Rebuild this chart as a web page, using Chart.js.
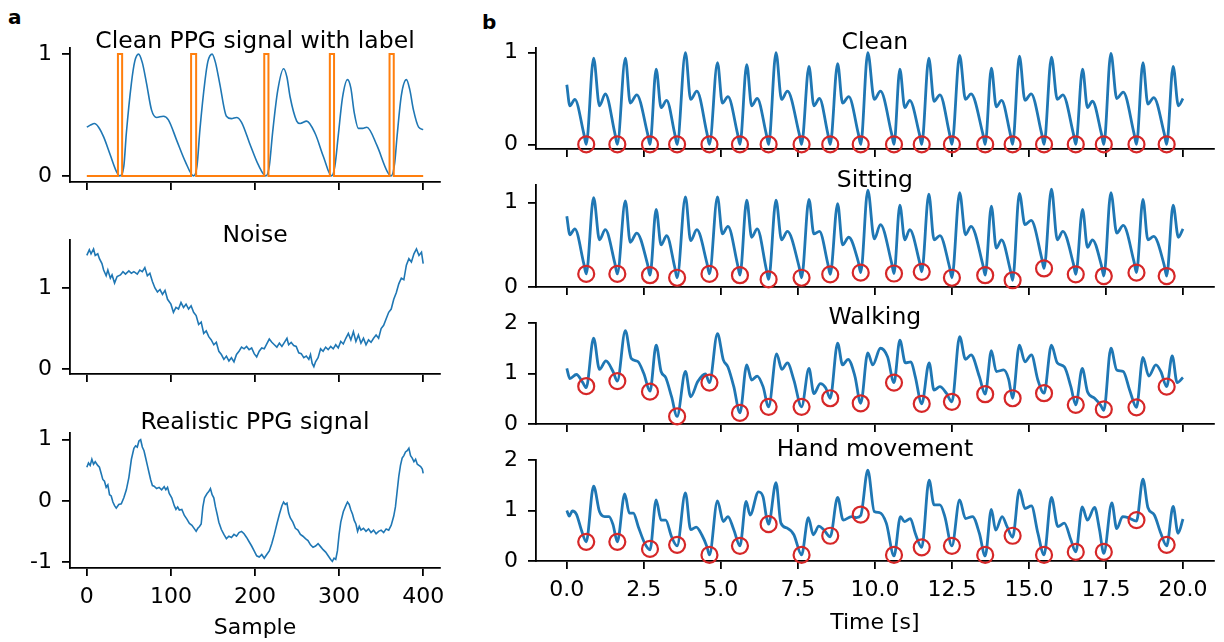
<!DOCTYPE html>
<html>
<head>
<meta charset="utf-8">
<script src="https://cdn.jsdelivr.net/npm/chart.js@4.4.1/dist/chart.umd.min.js"></script>
<style>
  html, body { margin: 0; padding: 0; background: #fff; }
  #fig { position: relative; width: 1224px; height: 642px; overflow: hidden; }
  #fig canvas { position: absolute; }
  .tag { position: absolute; font: bold 20px 'DejaVu Sans', sans-serif; line-height: 20px; color: #000; }
</style>
</head>
<body>
<div id="fig">
  <div class="tag" style="left:8px;top:7px">a</div>
  <div class="tag" style="left:482px;top:12px">b</div>
  <canvas id="cleanLabelChart" width="470" height="198" style="left:0;top:8px"></canvas>
  <canvas id="noiseChart" width="470" height="198" style="left:0;top:200px"></canvas>
  <canvas id="realisticChart" width="470" height="248" style="left:0;top:393px"></canvas>
  <canvas id="cleanChart" width="744" height="165" style="left:480px;top:8px"></canvas>
  <canvas id="sittingChart" width="744" height="156" style="left:480px;top:155px"></canvas>
  <canvas id="walkingChart" width="744" height="155" style="left:480px;top:293px"></canvas>
  <canvas id="handChart" width="744" height="206" style="left:480px;top:430px"></canvas>
</div>
<script>
// ---- tick labels ----
const sampleTicks = [0, 100, 200, 300, 400];
const timeTicks = [0, 2.5, 5, 7.5, 10, 12.5, 15, 17.5, 20];

// ---- panel a: simulated signals (sample, value) ----
const cleanPpg = [
  [0,0.40],[5,0.42],[9,0.43],[14,0.40],[20,0.32],[28,0.17],[35,0.04],[39,0],
  [44,0.08],[47,0.35],[53,0.76],[57,0.94],[61.5,1.0],[66,0.93],[71,0.76],[77,0.54],[83,0.48],[91,0.49],[97,0.46],[107,0.29],[117,0.12],[127,0],
  [131,0.08],[134.5,0.38],[140.5,0.78],[144,0.94],[149,1.0],[153,0.93],[158,0.76],[166,0.49],[172,0.47],[178,0.48],[184,0.44],[194,0.26],[204,0.09],[213,0],
  [217,0.08],[221,0.36],[227,0.70],[234,0.88],[238,0.81],[241.7,0.65],[249.6,0.45],[253.6,0.43],[261.5,0.45],[271.4,0.35],[281.3,0.16],[291,0],
  [295,0.08],[299,0.33],[304,0.64],[310,0.79],[314,0.72],[318,0.52],[323,0.39],[328,0.39],[333,0.40],[345,0.25],[357,0.04],[362,0],
  [366,0.10],[369,0.33],[374,0.66],[380,0.79],[384,0.71],[388.5,0.54],[394.6,0.40],[400,0.38]
];
const labelStarts = [37, 124, 211, 289, 360];
const labelEnds = [42, 130, 216, 294, 365];

const noiseSig = [
  [0,1.40],[3,1.47],[5,1.42],[8,1.48],[10,1.40],[13,1.42],[15,1.36],[18,1.30],[20,1.22],[23,1.15],[25,1.22],[28,1.12],
  [30,1.16],[33,1.06],[36,1.14],[40,1.16],[43,1.20],[46,1.17],[50,1.21],[53,1.18],[56,1.20],[60,1.17],[63,1.22],[66,1.20],
  [69,1.25],[72,1.15],[75,1.18],[78,1.08],[81,1.00],[84,0.95],[87,0.98],[90,0.92],[93,0.97],[96,0.86],[100,0.80],[103,0.70],
  [106,0.76],[109,0.74],[112,0.82],[115,0.76],[118,0.80],[121,0.74],[124,0.78],[127,0.70],[130,0.66],[133,0.55],[136,0.58],
  [139,0.44],[142,0.47],[145,0.40],[148,0.36],[151,0.30],[154,0.33],[157,0.22],[160,0.18],[163,0.12],[166,0.16],[169,0.10],
  [172,0.14],[175,0.09],[178,0.18],[181,0.22],[184,0.27],[187,0.25],[190,0.28],[193,0.24],[196,0.26],[199,0.19],[202,0.15],
  [205,0.22],[208,0.26],[211,0.25],[214,0.31],[217,0.37],[220,0.33],[223,0.30],[226,0.27],[229,0.32],[232,0.28],[235,0.33],
  [238,0.38],[240,0.30],[243,0.33],[246,0.29],[249,0.28],[252,0.20],[255,0.19],[258,0.14],[261,0.16],[264,0.12],[266,0.18],
  [268,0.07],[270,0.03],[272,0.09],[275,0.14],[278,0.25],[281,0.22],[284,0.27],[287,0.24],[290,0.28],[293,0.25],[296,0.30],
  [299,0.26],[302,0.34],[305,0.31],[308,0.38],[311,0.44],[314,0.36],[317,0.46],[320,0.34],[323,0.42],[326,0.32],[329,0.38],
  [332,0.30],[335,0.36],[338,0.33],[341,0.38],[344,0.42],[347,0.38],[350,0.50],[353,0.54],[356,0.62],[359,0.70],[362,0.74],
  [365,0.86],[368,0.94],[371,1.05],[374,1.12],[377,1.10],[380,1.28],[383,1.36],[386,1.32],[389,1.42],[392,1.48],[395,1.40],
  [398,1.44],[400,1.30]
];

const realisticSig = [
  [0,0.55],[2,0.62],[4,0.58],[6,0.68],[8,0.60],[10,0.64],[13,0.58],[15,0.55],[17,0.45],[19,0.35],[21,0.32],[23,0.22],
  [25,0.26],[27,0.10],[29,0.08],[31,-0.02],[33,-0.08],[35,-0.12],[38,-0.06],[41,-0.05],[44,0.05],[47,0.18],[50,0.38],
  [53,0.68],[56,0.86],[58,0.90],[60,0.88],[62,0.98],[64,1.0],[66,0.88],[68,0.82],[70,0.70],[72,0.58],[74,0.46],[76,0.34],
  [78,0.25],[80,0.24],[83,0.20],[86,0.22],[89,0.18],[92,0.23],[94,0.18],[96,0.22],[98,0.12],[101,0.05],[104,-0.08],
  [106,-0.14],[108,-0.10],[110,-0.15],[113,-0.14],[116,-0.24],[119,-0.30],[122,-0.37],[125,-0.40],[128,-0.46],[130,-0.50],
  [132,-0.45],[134,-0.42],[136,-0.38],[138,-0.10],[140,0.05],[143,0.12],[145,0.15],[147,0.20],[149,0.10],[151,0.05],
  [153,-0.10],[155,-0.22],[157,-0.35],[160,-0.47],[163,-0.55],[166,-0.62],[169,-0.58],[172,-0.60],[175,-0.55],[178,-0.58],
  [181,-0.52],[184,-0.50],[187,-0.54],[190,-0.60],[193,-0.67],[196,-0.74],[199,-0.82],[202,-0.90],[205,-0.92],[208,-0.88],
  [211,-0.94],[214,-0.88],[217,-0.82],[220,-0.70],[223,-0.55],[226,-0.38],[229,-0.22],[232,-0.08],[234,-0.02],[236,-0.06],
  [238,-0.04],[240,-0.20],[242,-0.28],[245,-0.35],[248,-0.45],[251,-0.48],[254,-0.55],[257,-0.58],[260,-0.62],[263,-0.65],
  [266,-0.72],[269,-0.76],[272,-0.74],[275,-0.70],[278,-0.75],[281,-0.80],[284,-0.84],[287,-0.90],[290,-0.96],[292,-0.99],
  [294,-0.94],[296,-0.96],[298,-0.82],[300,-0.55],[302,-0.35],[305,-0.18],[308,-0.08],[310,-0.02],[312,-0.06],[314,-0.15],
  [316,-0.22],[318,-0.32],[320,-0.38],[322,-0.50],[324,-0.42],[326,-0.48],[329,-0.45],[332,-0.50],[335,-0.46],[338,-0.52],
  [341,-0.48],[344,-0.54],[347,-0.50],[350,-0.48],[353,-0.52],[356,-0.46],[359,-0.48],[362,-0.40],[365,-0.25],[367,-0.10],
  [369,0.15],[371,0.40],[373,0.58],[375,0.70],[377,0.74],[379,0.80],[381,0.82],[383,0.86],[385,0.74],[387,0.70],[389,0.64],
  [391,0.68],[393,0.60],[395,0.58],[397,0.56],[399,0.52],[400,0.45]
];

// ---- panel b: recorded signals (time in s, value) ----
const onsetTimes = [0.63,1.64,2.70,3.58,4.63,5.62,6.55,7.62,8.55,9.54,10.62,11.52,12.50,13.58,14.47,15.49,16.52,17.43,18.49,19.47];
const cleanOnsets = [0,0,0,0,0,0,0,0,0,0,0,0,0,0,0,0,0,0,0,0];
const sittingOnsets = [0.155,0.155,0.14,0.11,0.155,0.14,0.09,0.11,0.15,0.17,0.16,0.18,0.11,0.14,0.08,0.22,0.15,0.13,0.17,0.13];
const walkingOnsets = [0.75,0.85,0.64,0.15,0.82,0.22,0.34,0.34,0.51,0.41,0.82,0.40,0.44,0.59,0.51,0.61,0.38,0.29,0.33,0.74];
const handOnsets = [0.38,0.38,0.24,0.32,0.12,0.30,0.73,0.12,0.50,0.92,0.12,0.27,0.30,0.12,0.50,0.12,0.18,0.18,0.81,0.32];

const cleanSig = [
  [0,0.65],[0.1,0.42],[0.26,0.49],[0.55,0.12],[0.63,0],
  [0.87,0.94],[1.06,0.42],[1.25,0.55],[1.56,0.12],[1.64,0],
  [1.90,0.94],[2.06,0.45],[2.27,0.54],[2.62,0.12],[2.70,0],
  [2.90,0.82],[3.06,0.40],[3.24,0.48],[3.50,0.12],[3.58,0],
  [3.85,1.00],[4.02,0.49],[4.22,0.58],[4.55,0.12],[4.63,0],
  [4.89,0.89],[5.05,0.45],[5.23,0.52],[5.54,0.12],[5.62,0],
  [5.84,0.87],[6.00,0.42],[6.18,0.50],[6.47,0.12],[6.55,0],
  [6.79,1.00],[6.97,0.49],[7.16,0.58],[7.54,0.12],[7.62,0],
  [7.86,0.85],[8.02,0.42],[8.20,0.50],[8.47,0.12],[8.55,0],
  [8.79,0.88],[8.95,0.45],[9.15,0.52],[9.46,0.12],[9.54,0],
  [9.77,1.00],[9.98,0.49],[10.18,0.58],[10.54,0.12],[10.62,0],
  [10.81,0.82],[10.97,0.40],[11.13,0.48],[11.44,0.12],[11.52,0],
  [11.75,0.94],[11.92,0.47],[12.11,0.54],[12.42,0.12],[12.50,0],
  [12.75,0.97],[12.94,0.49],[13.12,0.55],[13.50,0.12],[13.58,0],
  [13.78,0.83],[13.94,0.41],[14.11,0.48],[14.39,0.12],[14.47,0],
  [14.69,0.96],[14.87,0.48],[15.07,0.55],[15.41,0.12],[15.49,0],
  [15.73,0.95],[15.92,0.49],[16.10,0.54],[16.44,0.12],[16.52,0],
  [16.74,0.82],[16.90,0.40],[17.06,0.47],[17.35,0.12],[17.43,0],
  [17.66,0.99],[17.85,0.50],[18.06,0.57],[18.41,0.12],[18.49,0],
  [18.70,0.89],[18.86,0.44],[19.05,0.51],[19.39,0.12],[19.47,0],
  [19.68,0.85],[19.85,0.42],[20.0,0.50]
];

const sittingSig = [
  [0,0.84],[0.1,0.62],[0.26,0.69],[0.55,0.28],[0.63,0.155],
  [0.87,1.06],[1.06,0.56],[1.25,0.68],[1.56,0.28],[1.64,0.155],
  [1.90,1.02],[2.06,0.53],[2.27,0.64],[2.62,0.27],[2.70,0.14],
  [2.90,0.92],[3.06,0.50],[3.24,0.61],[3.50,0.24],[3.58,0.11],
  [3.85,1.07],[4.02,0.55],[4.22,0.68],[4.55,0.28],[4.63,0.155],
  [4.89,1.07],[5.05,0.63],[5.23,0.72],[5.54,0.27],[5.62,0.14],
  [5.84,1.03],[6.00,0.59],[6.18,0.69],[6.47,0.22],[6.55,0.09],
  [6.79,1.03],[6.97,0.56],[7.16,0.66],[7.54,0.24],[7.62,0.11],
  [7.86,1.04],[8.02,0.63],[8.20,0.66],[8.47,0.28],[8.55,0.15],
  [8.79,0.99],[8.95,0.50],[9.15,0.59],[9.46,0.30],[9.54,0.17],
  [9.77,1.15],[9.98,0.57],[10.18,0.74],[10.54,0.29],[10.62,0.16],
  [10.81,0.97],[10.97,0.56],[11.13,0.68],[11.44,0.31],[11.52,0.18],
  [11.75,1.10],[11.92,0.56],[12.11,0.61],[12.42,0.24],[12.50,0.11],
  [12.75,1.12],[12.94,0.62],[13.12,0.72],[13.50,0.27],[13.58,0.14],
  [13.78,0.96],[13.94,0.46],[14.11,0.56],[14.39,0.21],[14.47,0.08],
  [14.69,1.11],[14.87,0.74],[15.07,0.79],[15.41,0.35],[15.49,0.22],
  [15.73,1.16],[15.92,0.56],[16.10,0.66],[16.44,0.28],[16.52,0.15],
  [16.74,0.92],[16.90,0.47],[17.06,0.56],[17.35,0.26],[17.43,0.13],
  [17.66,1.12],[17.85,0.64],[18.06,0.73],[18.41,0.30],[18.49,0.17],
  [18.70,1.04],[18.86,0.56],[19.05,0.60],[19.39,0.26],[19.47,0.13],
  [19.68,0.97],[19.85,0.59],[20.0,0.69]
];

const walkingSig = [
  [0,1.10],[0.1,0.90],[0.31,0.98],[0.52,0.82],[0.63,0.72],
  [0.87,1.70],[1.06,1.08],[1.27,1.25],[1.50,1.04],[1.64,0.85],
  [1.90,1.85],[2.09,1.30],[2.30,1.24],[2.50,1.00],[2.70,0.65],
  [2.90,1.56],[3.06,1.04],[3.21,0.92],[3.40,0.54],[3.58,0.15],
  [3.85,1.04],[4.02,0.54],[4.25,0.84],[4.50,0.99],[4.63,0.82],
  [4.89,1.79],[5.08,1.27],[5.23,1.13],[5.42,0.74],[5.62,0.22],
  [5.84,1.17],[6.00,0.87],[6.18,0.95],[6.37,0.74],[6.55,0.34],
  [6.81,1.39],[6.98,1.08],[7.16,1.21],[7.37,0.87],[7.62,0.34],
  [7.86,1.10],[8.02,0.60],[8.23,0.80],[8.40,0.72],[8.55,0.51],
  [8.79,1.60],[8.95,1.17],[9.13,1.28],[9.35,0.95],[9.54,0.41],
  [9.77,1.41],[9.93,1.17],[10.18,1.50],[10.41,1.33],[10.62,0.82],
  [10.81,1.66],[10.99,1.21],[11.17,1.23],[11.31,0.94],[11.52,0.40],
  [11.76,1.21],[11.92,0.67],[12.11,0.74],[12.32,0.61],[12.50,0.44],
  [12.75,1.73],[12.94,1.28],[13.12,1.37],[13.39,0.94],[13.58,0.59],
  [13.78,1.45],[13.94,1.04],[14.18,1.07],[14.34,0.89],[14.47,0.51],
  [14.69,1.56],[14.87,1.23],[15.08,1.37],[15.29,0.87],[15.49,0.61],
  [15.73,1.56],[15.92,1.21],[16.15,1.13],[16.36,0.74],[16.52,0.38],
  [16.73,1.10],[16.90,0.64],[17.13,0.51],[17.32,0.38],[17.43,0.27],
  [17.66,1.50],[17.85,1.07],[18.06,1.04],[18.27,0.67],[18.49,0.33],
  [18.70,1.32],[18.89,0.95],[19.12,1.17],[19.28,1.04],[19.47,0.74],
  [19.65,1.35],[19.81,0.82],[20.0,0.92]
];

const handSig = [
  [0,1.00],[0.08,0.89],[0.18,0.99],[0.31,0.93],[0.47,0.62],[0.63,0.38],
  [0.87,1.48],[1.06,0.98],[1.23,0.88],[1.37,0.88],[1.50,0.72],[1.64,0.38],
  [1.88,1.33],[2.03,0.95],[2.16,0.95],[2.32,0.68],[2.53,0.35],[2.70,0.22],
  [2.90,1.21],[3.06,0.81],[3.21,0.81],[3.40,0.48],[3.58,0.30],
  [3.85,1.35],[4.02,0.62],[4.20,0.67],[4.38,0.52],[4.55,0.28],[4.63,0.12],
  [4.89,1.19],[5.08,0.78],[5.23,0.88],[5.42,0.62],[5.62,0.30],
  [5.82,1.18],[5.95,0.91],[6.22,1.37],[6.37,1.27],[6.48,0.87],[6.55,0.73],
  [6.79,1.55],[6.95,0.75],[7.16,0.65],[7.37,0.52],[7.62,0.12],
  [7.84,0.86],[8.00,0.52],[8.18,0.69],[8.34,0.62],[8.55,0.48],
  [8.79,1.26],[8.97,0.81],[9.24,0.88],[9.40,0.86],[9.54,0.90],
  [9.77,1.80],[9.98,0.98],[10.15,0.96],[10.37,0.75],[10.62,0.10],
  [10.83,0.88],[10.96,0.78],[11.15,0.84],[11.31,0.55],[11.52,0.27],
  [11.76,1.60],[11.92,1.11],[12.11,1.11],[12.27,0.88],[12.50,0.30],
  [12.75,1.21],[12.94,0.84],[13.17,0.88],[13.39,0.55],[13.58,0.10],
  [13.78,1.02],[13.92,0.61],[14.13,0.88],[14.29,0.68],[14.47,0.47],
  [14.69,1.41],[14.87,1.04],[15.08,1.09],[15.29,0.55],[15.49,0.12],
  [15.73,1.26],[15.94,0.68],[16.15,0.75],[16.36,0.42],[16.52,0.18],
  [16.73,1.07],[16.90,0.81],[17.13,1.06],[17.29,0.62],[17.43,0.15],
  [17.69,1.15],[17.85,0.64],[18.04,0.88],[18.22,0.86],[18.49,0.79],
  [18.70,1.62],[18.86,1.06],[19.07,0.91],[19.28,0.55],[19.47,0.30],
  [19.68,1.08],[19.84,0.55],[20.0,0.83]
];

const colors = {
  blue: '#1f77b4',
  orange: '#ff7f0e',
  red: '#d62728',
  axis: '#000'
};

Chart.defaults.font.family = "'DejaVu Sans', sans-serif";
Chart.defaults.font.size = 22;
Chart.defaults.color = '#000';

const toXY = pts => pts.map(p => ({ x: p[0], y: p[1] }));
const onsetPoints = vals => onsetTimes.map((t, i) => ({ x: t, y: vals[i] }));

function pulseTrain(starts, ends, first, last) {
  const pts = [[first, 0]];
  starts.forEach((s, i) => {
    pts.push([s, 0], [s, 1], [ends[i], 1], [ends[i], 0]);
  });
  pts.push([last, 0]);
  return pts;
}

// title drawn above each subplot, like matplotlib's ax.set_title
const subplotTitle = {
  id: 'subplotTitle',
  afterDraw(chart, args, opts) {
    const { ctx, chartArea } = chart;
    ctx.save();
    ctx.font = "23.5px 'DejaVu Sans', sans-serif";
    ctx.fillStyle = '#000';
    ctx.textAlign = 'center';
    ctx.textBaseline = 'alphabetic';
    ctx.fillText(opts.text, (chartArea.left + chartArea.right) / 2, chartArea.top + opts.shift);
    ctx.restore();
  }
};

const axisGrid = { drawOnChartArea: false, drawTicks: true, tickLength: 8, color: colors.axis, lineWidth: 1.8 };
const axisBorder = { display: true, color: colors.axis, width: 1.8 };

function panelOptions(p) {
  return {
    responsive: false,
    animation: false,
    events: [],
    layout: { padding: { left: 0, right: p.padRight, top: p.padTop, bottom: p.padBottom } },
    plugins: {
      legend: { display: false },
      tooltip: { enabled: false },
      subplotTitle: { text: p.title, shift: p.titleShift }
    },
    scales: {
      x: {
        type: 'linear',
        min: p.xMin,
        max: p.xMax,
        afterFit: s => { s.height = p.xAxisH; },
        afterBuildTicks: s => { s.ticks = p.xTicks.map(v => ({ value: v })); },
        grid: axisGrid,
        border: axisBorder,
        ticks: { display: !!p.xLabels, padding: 8, maxRotation: 0, autoSkip: false, callback: p.xFormat },
        title: { display: !!p.xTitle, text: p.xTitle || '', padding: 0 }
      },
      y: {
        type: 'linear',
        min: p.yMin,
        max: p.yMax,
        afterFit: s => { s.width = p.yAxisW; },
        afterBuildTicks: s => { s.ticks = p.yTicks.map(v => ({ value: v })); },
        grid: axisGrid,
        border: axisBorder,
        ticks: { padding: 10, callback: v => String(v) }
      }
    }
  };
}

function lineSet(pts, width, smooth, color) {
  return {
    type: 'line',
    data: toXY(pts),
    borderColor: color || colors.blue,
    borderWidth: width,
    pointRadius: 0,
    fill: false,
    tension: smooth ? 0.4 : 0,
    cubicInterpolationMode: smooth ? 'monotone' : 'default'
  };
}

function onsetSet(vals) {
  return {
    type: 'scatter',
    data: onsetPoints(vals),
    pointStyle: 'circle',
    pointRadius: 8,
    borderColor: colors.red,
    backgroundColor: 'rgba(0,0,0,0)',
    borderWidth: 2.2,
    clip: false
  };
}

const leftBase = { xMin: -20, xMax: 420, xTicks: sampleTicks, yAxisW: 70, padRight: 30, padTop: 40, xFormat: v => String(v) };
const rightBase = { xMin: -1, xMax: 21, xTicks: timeTicks, yAxisW: 56, padRight: 0, xFormat: v => v.toFixed(1) };

// a: clean PPG with label
new Chart(document.getElementById('cleanLabelChart'), {
  type: 'line',
  data: {
    datasets: [
      lineSet(pulseTrain(labelStarts, labelEnds, sampleTicks[0], sampleTicks[4]), 2, false, colors.orange),
      lineSet(cleanPpg, 1.6, true)
    ]
  },
  options: panelOptions(Object.assign({}, leftBase, {
    yMin: -0.05, yMax: 1.05, yTicks: [0, 1], xAxisH: 12, padBottom: 12,
    title: 'Clean PPG signal with label', titleShift: 0
  })),
  plugins: [subplotTitle]
});

// a: noise
new Chart(document.getElementById('noiseChart'), {
  type: 'line',
  data: { datasets: [lineSet(noiseSig, 1.6, false)] },
  options: panelOptions(Object.assign({}, leftBase, {
    yMin: -0.06, yMax: 1.59, yTicks: [0, 1], xAxisH: 12, padBottom: 12,
    title: 'Noise', titleShift: 2
  })),
  plugins: [subplotTitle]
});

// a: realistic PPG
new Chart(document.getElementById('realisticChart'), {
  type: 'line',
  data: { datasets: [lineSet(realisticSig, 1.6, false)] },
  options: panelOptions(Object.assign({}, leftBase, {
    yMin: -1.1, yMax: 1.11, yTicks: [-1, 0, 1], xAxisH: 73, padBottom: 0,
    xLabels: true, xTitle: 'Sample',
    title: 'Realistic PPG signal', titleShift: -4
  })),
  plugins: [subplotTitle]
});

// b: four recordings with detected onsets
const rightPanels = [
  { id: 'cleanChart', sig: cleanSig, onsets: cleanOnsets, title: 'Clean', shift: 1, yMin: -0.05, yMax: 1.05, yTicks: [0, 1], padTop: 40, xAxisH: 12, padBottom: 12 },
  { id: 'sittingChart', sig: sittingSig, onsets: sittingOnsets, title: 'Sitting', shift: 2, yMin: 0, yMax: 1.21, yTicks: [0, 1], padTop: 30, xAxisH: 12, padBottom: 12 },
  { id: 'walkingChart', sig: walkingSig, onsets: walkingOnsets, title: 'Walking', shift: 1, yMin: 0, yMax: 2, yTicks: [0, 1, 2], padTop: 30, xAxisH: 12, padBottom: 12 },
  { id: 'handChart', sig: handSig, onsets: handOnsets, title: 'Hand movement', shift: -4, yMin: 0, yMax: 2, yTicks: [0, 1, 2], padTop: 30, xAxisH: 75, padBottom: 0, xLabels: true, xTitle: 'Time [s]' }
];

rightPanels.forEach(p => {
  new Chart(document.getElementById(p.id), {
    type: 'line',
    data: { datasets: [onsetSet(p.onsets), lineSet(p.sig, 2.8, true)] },
    options: panelOptions(Object.assign({}, rightBase, {
      yMin: p.yMin, yMax: p.yMax, yTicks: p.yTicks, padTop: p.padTop, xAxisH: p.xAxisH, padBottom: p.padBottom,
      xLabels: p.xLabels, xTitle: p.xTitle, title: p.title, titleShift: p.shift
    })),
    plugins: [subplotTitle]
  });
});
</script>
</body>
</html>
